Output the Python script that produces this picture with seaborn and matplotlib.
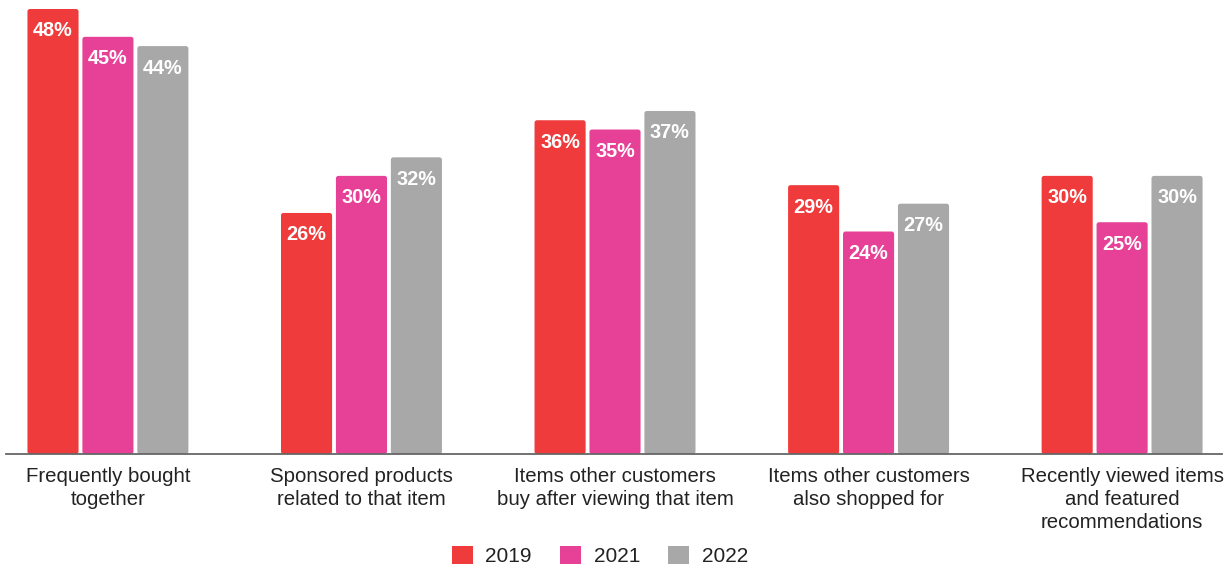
import matplotlib
matplotlib.use("Agg")
import matplotlib.pyplot as plt
from matplotlib.patches import FancyBboxPatch
import seaborn as sns
import pandas as pd

categories = [
    "Frequently bought\ntogether",
    "Sponsored products\nrelated to that item",
    "Items other customers\nbuy after viewing that item",
    "Items other customers\nalso shopped for",
    "Recently viewed items\nand featured\nrecommendations",
]
years = ["2019", "2021", "2022"]
values_2019 = [48, 26, 36, 29, 30]
values_2021 = [45, 30, 35, 24, 25]
values_2022 = [44, 32, 37, 27, 30]
colors = ["#EF3B3B", "#E64196", "#A8A8A8"]

rows = []
for yr, vals in zip(years, [values_2019, values_2021, values_2022]):
    for cat, v in zip(categories, vals):
        rows.append({"category": cat, "year": yr, "value": v})
df = pd.DataFrame(rows)

sns.set_theme(style="white")
plt.rcParams["font.family"] = ["Liberation Sans", "DejaVu Sans"]

fig = plt.figure(figsize=(12.28, 5.69), dpi=100)
ax = fig.add_axes([6 / 1228, 115 / 569, 1216 / 1228, 445 / 569])

sns.barplot(data=df, x="category", y="value", hue="year", order=categories,
            hue_order=years, palette=colors, width=0.65, gap=0.07,
            saturation=1, legend=False, ax=ax)

ax.set_xlim(-0.402, 4.394)
ax.set_ylim(0, 48)

# swap the plain rectangles for ones with softly rounded corners
px_x = 1 / 253.5
px_y = 48 / 445
for bar in list(ax.patches):
    x, y = bar.get_x(), bar.get_y()
    w, h = bar.get_width(), bar.get_height()
    fc = bar.get_facecolor()
    bar.remove()
    rounded = FancyBboxPatch((x, y), w, h,
                             boxstyle=f"round,pad=0,rounding_size={2.5 * px_x}",
                             mutation_aspect=px_y / px_x,
                             facecolor=fc, edgecolor="none", clip_on=False)
    ax.add_patch(rounded)
    ax.text(x + w / 2, h - 22 * px_y, f"{int(round(h))}%", ha="center",
            va="center", color="white", fontsize=14.3, fontweight="bold")

for s in ["top", "right", "left"]:
    ax.spines[s].set_visible(False)
ax.spines["bottom"].set_color("#666666")
ax.spines["bottom"].set_linewidth(1.3)
ax.set_yticks([])
ax.set_xlabel("")
ax.set_ylabel("")
ax.tick_params(axis="x", length=0, pad=9, labelsize=14.7, colors="#222222")
for lbl in ax.get_xticklabels():
    lbl.set_linespacing(1.3)

handles = [plt.Rectangle((0, 0), 1, 1, facecolor=c, edgecolor="none") for c in colors]
fig.legend(handles, years, loc="center", bbox_to_anchor=(600 / 1228, 1 - 556 / 569),
           ncol=3, frameon=False, fontsize=15, handlelength=1.0, handleheight=1.0,
           handletextpad=0.62, columnspacing=1.35, labelcolor="#222222")

fig.savefig("out.png", dpi=100)
